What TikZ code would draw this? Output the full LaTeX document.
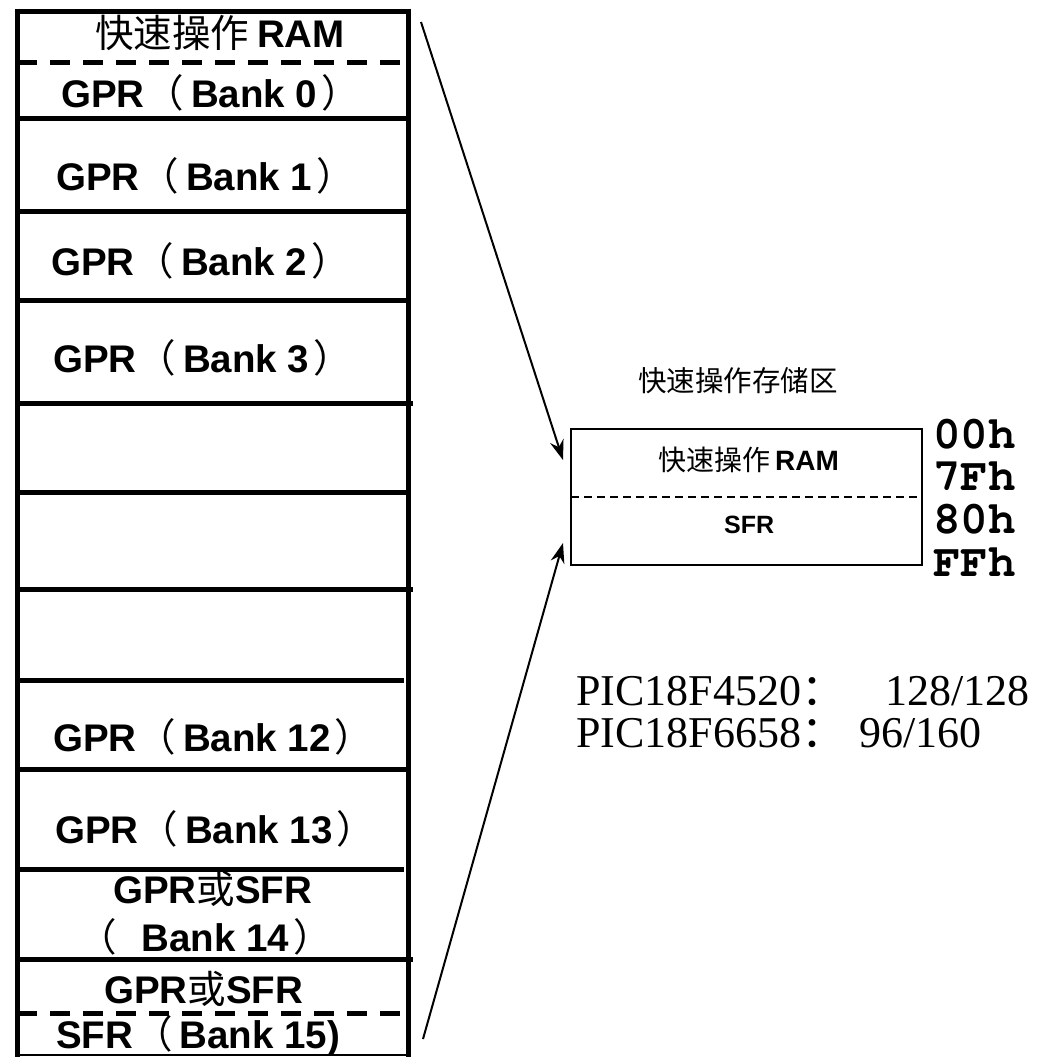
\documentclass[tikz,border=0pt]{standalone}
\usepackage[T1]{fontenc}
\usepackage{fontspec}
\setmainfont{Liberation Sans}
\newfontfamily\cjk{Noto Sans CJK SC}
\newfontfamily\seriff{Liberation Serif}
\usetikzlibrary{arrows.meta}
\newcommand{\zh}[1]{{\cjk\mdseries #1}}
\newcommand{\lp}{\hspace{1bp}\zh{（}\hspace{7bp}}
\newcommand{\rp}{\hspace{4bp}\zh{）}}
\newcommand{\courb}{\fontencoding{T1}\fontfamily{pcr}\fontseries{b}\fontshape{n}\selectfont}
\begin{document}
\begin{tikzpicture}[x=1bp,y=-1bp,
  bigtxt/.style={inner sep=0pt,anchor=base west,font=\fontsize{38.5bp}{44bp}\selectfont\bfseries},
  thick5/.style={line width=5bp},
  dash5/.style={line width=5bp,dash pattern=on 20bp off 13bp},
  thinbox/.style={line width=2bp},
  arr/.style={line width=2bp,-{Stealth[length=20bp,width=14bp]}},
  hexlab/.style={inner sep=0pt,anchor=base west,font=\fontsize{46bp}{50bp}\courb},
  pic/.style={inner sep=0pt,anchor=base west,font=\fontsize{44bp}{50bp}\seriff}
]
\fill[white] (0,0) rectangle (1041,1057);
\useasboundingbox (0,0) rectangle (1041,1057);

% left memory map
\draw[line width=1.5bp] (17,1055) -- (408,1055);
\draw[thick5] (17,11) -- (408,11);
\draw[thick5] (17,8.5) -- (17,1057);
\draw[thick5] (408,8.5) -- (408,1057);
\draw[dash5] (17,62) -- (412,62);
\draw[thick5] (17,118) -- (408,118);
\draw[thick5] (17,211) -- (408,211);
\draw[thick5] (17,300) -- (408,300);
\draw[thick5] (17,403) -- (413,403);
\draw[thick5] (17,492) -- (408,492);
\draw[thick5] (17,589) -- (413,589);
\draw[thick5] (17,680) -- (404,680);
\draw[thick5] (17,769) -- (408,769);
\draw[thick5] (17,869) -- (404,869);
\draw[thick5] (17,959) -- (413,959);
\draw[dash5] (17,1013) -- (412,1013);

\node[bigtxt] (r0) at (95,47) {\zh{快速操作}\hspace{8bp}RAM};
\node[bigtxt] (b0) at (61,107) {GPR\lp Bank 0\rp};
\node[bigtxt] (b1) at (56,190) {GPR\lp Bank 1\rp};
\node[bigtxt] (b2) at (51,275) {GPR\lp Bank 2\rp};
\node[bigtxt] (b3) at (53,372) {GPR\lp Bank 3\rp};
\node[bigtxt] (b12) at (53,751) {GPR\lp Bank 12\rp};
\node[bigtxt] (b13) at (55,843) {GPR\lp Bank 13\rp};
\node[bigtxt] (b14a) at (113,903) {GPR\zh{或}SFR};
\node[bigtxt] (b14b) at (78,951) {\zh{（}\hspace{25bp}Bank 14\rp};
\node[bigtxt] (b15a) at (104,1003) {GPR\zh{或}SFR};
\node[bigtxt] (b15b) at (56,1048) {SFR\lp Bank 15)};

% access bank box
\draw[thinbox] (571,429) rectangle (922,565);
\draw[line width=1.5bp,dash pattern=on 8bp off 5bp] (571,497) -- (922,497);
\node[inner sep=0pt,anchor=base west,font=\fontsize{28.5bp}{32bp}\cjk] (title) at (638,391) {快速操作存储区};
\node[inner sep=0pt,anchor=base west,font=\fontsize{28bp}{32bp}\bfseries] (ram) at (658,470) {\zh{快速操作}\hspace{5bp}RAM};
\node[inner sep=0pt,anchor=base west,font=\fontsize{25bp}{28bp}\bfseries] (sfr) at (724,533) {SFR};

\node[hexlab] (h00) at (933,448) {00h};
\node[hexlab] (h7f) at (933,490) {7Fh};
\node[hexlab] (h80) at (933,533) {80h};
\node[hexlab] (hff) at (933,576) {FFh};

\node[pic] (p1) at (576,705) {PIC18F4520\zh{：}\hspace{40bp}128/128};
\node[pic] (p2) at (576,747) {PIC18F6658\zh{：}\hspace{14bp}96/160};

% arrows
\coordinate (s1) at (421,22);
\coordinate (e1) at (563,460);
\coordinate (s2) at (423,1039);
\coordinate (e2) at (563,543);
\draw[arr] (s1) -- (e1);
\draw[arr] (s2) -- (e2);
\end{tikzpicture}
\end{document}
